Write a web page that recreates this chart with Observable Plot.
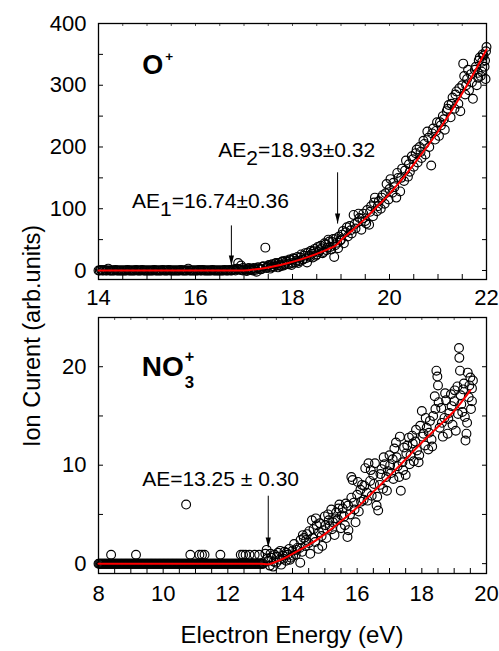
<!DOCTYPE html>
<html><head><meta charset="utf-8">
<script src="https://cdn.jsdelivr.net/npm/d3@7"></script>
<script src="https://cdn.jsdelivr.net/npm/@observablehq/plot@0.6"></script>
<style>
body{margin:0;background:#fff;}
#wrap{position:relative;width:499px;height:651px;font-family:"Liberation Sans",Arial,sans-serif;color:#000;overflow:hidden;}
#wrap svg{position:absolute;left:0;overflow:visible;}
#xlab{position:absolute;left:98px;width:388px;top:623px;text-align:center;font-size:24px;line-height:1;white-space:nowrap;}
#ylab{position:absolute;left:33px;top:336px;transform:translate(-50%,-50%) rotate(-90deg);font-size:23.5px;line-height:1;white-space:nowrap;}
</style>
</head><body>
<div id="wrap">
  <div id="xlab">Electron Energy (eV)</div>
  <div id="ylab">Ion Curent (arb.units)</div>
</div>
<script>
const FONT = '"Liberation Sans", Arial, sans-serif';

// ---------- Panel 1: O+ ----------
const oXTicks = [14, 16, 18, 20, 22];
const oYTicks = [0, 100, 200, 300, 400];
const oXMinor = [14,14.5,15,15.5,16,16.5,17,17.5,18,18.5,19,19.5,20,20.5,21,21.5,22];
const oYMinor = [0,50,100,150,200,250,300,350,400];

const oZeroE = [
14.00,14.05,14.10,14.15,14.20,14.25,14.30,14.35,14.40,14.45,
14.50,14.55,14.60,14.65,14.70,14.75,14.80,14.85,14.90,14.95,
15.00,15.05,15.10,15.15,15.20,15.25,15.30,15.35,15.40,15.45,
15.50,15.55,15.60,15.65,15.70,15.75,15.80,15.85,15.90,15.95,
16.00,16.05,16.10,16.15,16.20,16.25,16.30,16.35,16.40,16.45,
16.50,16.55,16.60,16.65,16.70,16.75,16.80,16.85,16.90,16.95,
16.88,16.94,16.98,
14.025,14.075,14.125,14.175,14.225,14.275,14.325,14.375,14.425,14.475,
14.525,14.575,14.625,14.675,14.725,14.775,14.825,14.875,14.925,14.975,
15.025,15.075,15.125,15.175,15.225,15.275,15.325,15.375,15.425,15.475,
15.525,15.575,15.625,15.675,15.725,15.775,15.825,15.875,15.925,15.975,
16.025,16.075,16.125,16.175,16.225,16.275,16.325,16.375,16.425,16.475,
16.525,16.575,16.625,16.675,16.725,16.775,16.825,16.875,16.925,16.975];
const oZeroI = [
0,1,0,0,3,0,0,1,0,0,
0,0,1,0,0,0,0,0,1,0,
0,0,0,1,0,0,0,0,0,1,
0,0,0,0,1,0,0,3,0,0,
0,0,0,1,0,0,0,1,0,0,
0,0,1,0,1,0,2,3,2,1,
12,8,4,
0,0,1,0,0,0,0,0,0,0,
0,0,0,0,0,1,0,0,0,0,
0,0,0,0,0,0,1,0,0,0,
0,0,0,0,0,0,0,0,0,0,
0,1,0,0,0,0,0,0,0,0,
0,0,0,0,0,1,0,2,1,0];

const oRiseE = [
17.02,17.06,17.10,17.14,17.18,17.22,17.26,17.30,17.34,17.38,
17.44,17.46,17.50,17.54,17.58,17.62,17.66,17.70,17.74,17.78,
17.82,17.86,17.90,17.94,17.98,18.02,18.06,18.10,18.14,18.18,
18.22,18.26,18.30,18.34,18.38,18.42,18.46,18.50,18.54,18.58,
18.62,18.66,18.70,18.74,18.78,18.82,18.86,18.90,18.94,18.98,
19.02,19.06,19.10,19.14,19.18,19.22,19.26,19.30,19.34,19.38,
19.42,19.46,19.50,19.54,19.58,19.62,19.66,19.70,19.74,19.78,
19.82,19.86,19.90,19.94,19.98,20.02,20.06,20.10,20.14,20.18,
20.22,20.26,20.30,20.34,20.38,20.42,20.46,20.50,20.54,20.58,
20.62,20.66,20.70,20.74,20.78,20.82,20.86,20.90,20.94,20.98,
21.02,21.06,21.10,21.14,21.18,21.22,21.26,21.30,21.34,21.38,
21.42,21.46,21.50,21.52,21.56,21.60,21.64,21.68,21.72,21.76,
21.80,21.84,21.88,21.92,21.96,22.00,21.98,21.94,21.86,21.90,
17.04,17.08,17.12,17.16,17.20,17.24,17.28,17.32,17.36,17.40,
17.48,17.52,17.56,17.60,17.64,17.68,17.72,17.76,17.80,17.84,
17.88,17.92,17.96,18.00,18.04,18.08,18.12,18.16,18.20,18.24,
18.28,18.32,18.36,18.40,18.44,18.48,18.52,18.56,18.60,18.64,
18.68,18.72,18.76,18.80,18.84,18.88,18.92,18.96,19.00,19.04,
19.12,19.20,19.28,19.36,19.44,19.52,19.60,19.68,19.76,19.84,
19.92,20.00,20.08,20.16,20.24,20.32,20.40,20.48,20.56,20.64,
20.72,20.80,20.88,20.96,21.04,21.12,21.20,21.28,21.36,21.44,
21.54,21.58,21.62,21.70,21.78,21.82,21.99,21.97,21.91,21.83];
const oRiseI = [
2,-1,4,1,0,3,-2,5,2,6,
37,4,8,3,10,6,12,5,9,14,
8,16,11,18,9,20,13,22,15,26,
18,28,13,24,32,21,35,26,30,40,
28,44,33,50,38,46,22,52,36,48,
58,44,62,55,72,60,90,68,78,85,
66,92,80,98,74,104,88,118,96,112,
100,122,108,140,115,148,126,135,118,150,
128,165,145,178,152,160,185,168,190,175,
200,182,210,188,225,200,170,230,212,240,
218,235,250,228,258,268,248,280,262,290,
270,258,300,335,285,310,292,318,278,325,
300,340,315,350,330,362,310,348,345,322,
0,3,1,2,4,1,5,3,2,7,
6,9,5,7,11,8,12,7,15,10,
14,10,17,12,19,16,12,21,17,24,
20,29,22,27,31,24,38,33,36,30,
42,37,47,34,51,41,45,55,50,64,
70,65,75,92,84,76,95,110,104,118,
125,132,142,158,150,162,172,180,196,192,
205,215,222,226,240,245,262,270,285,295,
315,300,325,305,330,320,355,340,338,312];

const oFitE = [14,16.5,17.0,17.25,17.5,17.75,18.0,18.25,18.5,18.75,18.93,19.0,19.25,19.5,19.75,20.0,20.25,20.5,20.75,21.0,21.25,21.5,21.75,22.0];
const oFitI = [0,0,0,2,5,9,14,20,27,35,43,49,66,84,104,124,147,172,198,225,255,287,321,358];

const oTitle = [{x: 14.9, y: 319, label: "O+"}];
const oNotes = [
  {x: 16.47, y: 183, label: "AE2=18.93±0.32"},
  {x: 14.69, y: 102, label: "AE1=16.74±0.36"}
];
const oArrows = [
  {x: 18.93, from: 159, to: 76},
  {x: 16.74, from: 73, to: 8}
];

// ---------- Panel 2: NO3+ ----------
const nXTicks = [8, 10, 12, 14, 16, 18, 20];
const nYTicks = [0, 10, 20];
const nXMinor = [8,8.5,9,9.5,10,10.5,11,11.5,12,12.5,13,13.5,14,14.5,15,15.5,16,16.5,17,17.5,18,18.5,19,19.5,20];
const nYMinor = [0,5,10,15,20,25];

const nZeroE = [
8.00,8.05,8.10,8.15,8.20,8.25,8.30,8.35,8.40,8.45,
8.50,8.55,8.60,8.65,8.70,8.75,8.80,8.85,8.90,8.95,
9.00,9.05,9.10,9.15,9.20,9.25,9.30,9.35,9.40,9.45,
9.50,9.55,9.60,9.65,9.70,9.75,9.80,9.85,9.90,9.95,
10.00,10.05,10.10,10.15,10.20,10.25,10.30,10.35,10.40,10.45,
10.50,10.55,10.60,10.65,10.70,10.75,10.80,10.85,10.90,10.95,
11.00,11.05,11.10,11.15,11.20,11.25,11.30,11.35,11.40,11.45,
11.50,11.55,11.60,11.65,11.70,11.75,11.80,11.85,11.90,11.95,
12.00,12.05,12.10,12.15,12.20,12.25,12.30,12.35,12.40,12.45,
12.50,12.55,12.60,12.65,12.70,12.75,12.80,12.85,12.90,12.95,
13.00,13.05,13.10,
8.025,8.075,8.125,8.175,8.225,8.275,8.325,8.375,8.425,8.475,
8.525,8.575,8.625,8.675,8.725,8.775,8.825,8.875,8.925,8.975,
9.025,9.075,9.125,9.175,9.225,9.275,9.325,9.375,9.425,9.475,
9.525,9.575,9.625,9.675,9.725,9.775,9.825,9.875,9.925,9.975,
10.025,10.075,10.125,10.175,10.225,10.275,10.325,10.375,10.425,10.475,
10.525,10.575,10.625,10.675,10.725,10.775,10.825,10.875,10.925,10.975,
11.025,11.075,11.125,11.175,11.225,11.275,11.325,11.375,11.425,11.475,
11.525,11.575,11.625,11.675,11.725,11.775,11.825,11.875,11.925,11.975,
12.025,12.075,12.125,12.175,12.225,12.275,12.325,12.375,12.425,12.475,
12.525,12.575,12.625,12.675,12.725,12.775,12.825,12.875,12.925,12.975,
13.025,13.075];
const nZeroI = [
0,0,0,0,0,0,0,0,0,0,
0,0,0,0,0,0,0,0,0,0,
0,0,0,0,0,0,0,0,0,0,
0,0,0,0,0,0,0,0,0,0,
0,0,0,0,0,0,0,0,0,0,
0,0,0,0,0,0,0,0,0,0,
0,0,0,0,0,0,0,0,0,0,
0,0,0,0,0,0,0,0,0,0,
0,0,0,0,0,0,0,0,0,0,
0,0,0,0,0,0,0,0,0,0,
0,0,0,
0,0,0,0,0,0,0,0,0,0,
0,0,0,0,0,0,0,0,0,0,
0,0,0,0,0,0,0,0,0,0,
0,0,0,0,0,0,0,0,0,0,
0,0,0,0,0,0,0,0,0,0,
0,0,0,0,0,0,0,0,0,0,
0,0,0,0,0,0,0,0,0,0,
0,0,0,0,0,0,0,0,0,0,
0,0,0,0,0,0,0,0,0,0,
0,0,0,0,0,0,0,0,0,0,
0,0];
const nLowE = [8.39,9.16,10.71,10.84,11.12,11.20,11.28,11.77,12.40,12.47,12.55,12.67,12.83,12.97,13.16];
const nLowI = [0.9,0.9,6.0,0.9,0.9,0.9,0.9,0.9,0.9,0.9,0.9,0.9,0.9,0.9,1.0];

const nRiseE = [
13.20,13.25,13.30,13.35,13.40,13.45,13.50,13.55,13.60,13.65,
13.70,13.75,13.80,13.85,13.90,13.95,14.00,14.05,14.10,14.15,
14.24,14.25,14.30,14.35,14.40,14.45,14.50,14.55,14.60,14.65,
14.70,14.75,14.80,14.85,14.90,14.95,15.00,15.05,15.10,15.15,
15.20,15.25,15.30,15.35,15.40,15.45,15.50,15.55,15.60,15.65,
15.70,15.73,15.78,15.82,15.86,15.90,15.95,16.00,16.05,16.10,
16.15,16.20,16.25,16.30,16.35,16.40,16.45,16.50,16.55,16.60,
16.65,16.70,16.75,16.80,16.85,16.90,16.95,17.00,17.05,17.10,
17.15,17.20,17.25,17.30,17.35,17.40,17.45,17.50,17.55,17.60,
17.65,17.70,17.75,17.80,17.85,17.90,17.95,18.00,18.05,18.10,
18.15,18.20,18.25,18.30,18.35,18.40,18.45,18.48,18.50,18.55,
18.60,18.65,18.70,18.75,18.80,18.85,18.90,18.95,19.00,19.05,
19.10,19.15,19.16,19.18,19.20,19.25,19.30,19.35,19.38,19.40,
19.45,19.50,19.52,19.55,19.58,
13.22,13.32,13.42,13.52,13.62,13.72,13.82,13.92,14.02,14.12,
14.22,14.32,14.42,14.52,14.62,14.72,14.82,14.92,15.02,15.12,
15.22,15.32,15.42,15.52,15.62,15.72,15.82,15.92,16.02,16.12,
16.22,16.32,16.42,16.52,16.62,16.72,16.82,16.92,17.02,17.12,
17.22,17.32,17.42,17.52,17.62,17.72,17.82,17.92,18.02,18.12,
18.22,18.32,18.42,18.52,18.62,18.72,18.82,18.92,19.02,19.12,
19.22,19.28,19.33,19.42,19.47,19.55];
const nRiseI = [
1.4,0.3,-0.2,0.6,-0.3,0.9,0.1,1.1,0.4,-0.1,
0.8,1.2,0.3,0.9,1.5,0.6,1.3,2.0,0.9,1.6,
0.1,2.4,1.2,2.6,1.8,3.0,2.1,1.0,4.4,3.5,
2.2,3.9,1.5,4.1,2.8,3.4,4.8,2.6,5.0,3.8,
5.5,4.2,2.9,5.2,4.5,6.0,3.6,5.6,4.8,6.1,
2.7,3.4,5.0,8.8,8.5,6.2,4.2,7.0,5.3,7.5,
8.0,6.5,9.7,7.2,10.2,8.4,6.9,9.0,10.2,5.9,
5.4,8.0,9.6,7.6,10.1,8.8,9.4,11.0,9.2,10.6,
11.7,12.3,9.9,8.8,7.4,10.3,11.8,9.0,12.0,12.8,
11.0,13.0,10.4,12.4,11.5,10.3,14.0,15.5,13.2,12.0,
13.8,11.6,14.5,12.6,15.0,17.0,19.6,19.0,18.1,13.8,
15.8,12.9,14.8,16.6,13.2,15.3,17.2,14.1,16.5,13.5,
18.0,21.9,20.9,19.6,17.1,15.4,18.3,12.5,13.2,14.3,
16.9,18.9,15.7,17.8,18.6,
0.5,1.0,0.2,0.7,1.3,0.5,1.1,0.4,0.8,1.4,
1.6,2.9,2.4,3.3,2.6,4.6,3.2,1.8,3.9,4.4,
3.5,4.6,5.6,4.9,3.9,5.9,6.7,5.5,8.3,6.3,
7.9,6.4,9.5,8.1,6.8,9.1,10.8,7.4,10.0,8.6,
10.8,12.9,9.5,11.2,10.1,12.2,13.6,11.0,12.9,14.8,
13.3,11.9,15.7,16.4,14.3,17.3,14.7,16.0,17.6,15.2,
16.2,17.7,14.9,19.4,18.1,16.5];

const nFitE = [8,13.0,13.25,13.5,13.75,14,14.5,15,15.5,16,16.5,17,17.5,18,18.5,19,19.5];
const nFitI = [0,0,-0.05,0.2,0.55,1.0,1.9,3.0,4.3,5.7,7.3,8.9,10.6,12.3,13.9,15.5,17.6];

const nTitle = [{x: 9.34, y: 19.1, label: "NO3+"}];
const nNotes = [{x: 9.35, y: 7.9, label: "AE=13.25 ± 0.30"}];
const nArrows = [{x: 13.25, from: 6.9, to: 1.65}];

// rich-text pieces: [text, size factor, dy px, dx px]
const rich = {
  "O+": [["O",1,0,0],["+",0.5,-13,2]],
  "NO3+": [["NO",1,0,0],["3",0.6,12,1],["+",0.58,-26,-9.3]],
  "AE2=18.93±0.32": [["AE",1,0,0],["2",1,8,0],["=18.93±0.32",1,-8,0]],
  "AE1=16.74±0.36": [["AE",1,0,0],["1",1,8,0],["=16.74±0.36",1,-8,0]]
};

const head = {draw(ctx) { ctx.moveTo(0, 0); ctx.lineTo(-2.6, -10); ctx.lineTo(2.6, -10); ctx.closePath(); }};

function panel(cfg) {
  const fw = 388, fh = 256;
  const E = cfg.E, I = cfg.I;
  const idx = d3.range(E.length);
  const fidx = d3.range(cfg.fitE.length);
  const svg = Plot.plot({
    width: 499, height: cfg.height,
    marginLeft: 98, marginRight: 13, marginTop: cfg.mt, marginBottom: cfg.mb,
    x: {domain: cfg.xDomain, label: null},
    y: {domain: cfg.yDomain, label: null},
    style: {fontFamily: FONT, fontSize: "22px", color: "black", background: "transparent", overflow: "visible"},
    marks: [
      Plot.tickX(cfg.xMinor, {x: d => d, stroke: "black", strokeWidth: 1, insetTop: fh - 5}),
      Plot.tickX(cfg.xMinor, {x: d => d, stroke: "#555", strokeWidth: 1, insetBottom: fh - 3}),
      Plot.tickY(cfg.yMinor, {y: d => d, stroke: "black", strokeWidth: 1, insetRight: fw - 5}),
      Plot.tickY(cfg.yMinor, {y: d => d, stroke: "black", strokeWidth: 1, insetLeft: fw - 4}),
      Plot.axisX(cfg.xTicks, {tickSize: 0, tickPadding: cfg.xPad, fontSize: 22, label: null}),
      Plot.axisY(cfg.yTicks, {tickSize: 0, tickPadding: 12, fontSize: 22, label: null}),
      Plot.dot(idx, {x: i => E[i], y: i => I[i], r: 4.4, stroke: "black", strokeWidth: 1.15, fill: "none"}),
      Plot.frame({stroke: "black", strokeWidth: 1.3}),
      Plot.line(fidx, {x: i => cfg.fitE[i], y: i => cfg.fitI[i], stroke: "#ff0000", strokeWidth: 2, curve: "monotone-x"}),
      Plot.link(cfg.arrows, {x1: "x", x2: "x", y1: "from", y2: "to", stroke: "black", strokeWidth: 1}),
      Plot.dot(cfg.arrows, {x: "x", y: "to", symbol: head, fill: "black", stroke: "none", r: 3}),
      Plot.text(cfg.title, {x: "x", y: "y", text: "label", textAnchor: "start", lineAnchor: "bottom", fontSize: cfg.titleSize, fontWeight: "bold", fill: "black"}),
      Plot.text(cfg.notes, {x: "x", y: "y", text: "label", textAnchor: "start", lineAnchor: "bottom", fontSize: 21, fill: "black"})
    ]
  });
  svg.style.top = cfg.top + "px";
  // rebuild subscripts / superscripts
  svg.querySelectorAll("text").forEach(t => {
    const key = t.textContent;
    if (!rich[key]) return;
    const g = t.closest("g[font-size]");
    const fs = parseFloat(t.getAttribute("font-size") || (g && g.getAttribute("font-size")) || 21);
    while (t.firstChild) t.removeChild(t.firstChild);
    rich[key].forEach(([s, f, dy, dx]) => {
      const ts = document.createElementNS("http://www.w3.org/2000/svg", "tspan");
      ts.textContent = s;
      if (f !== 1) ts.setAttribute("font-size", (fs * f).toFixed(1));
      if (dy) ts.setAttribute("dy", dy);
      if (dx) ts.setAttribute("dx", dx);
      t.appendChild(ts);
    });
  });
  return svg;
}

const wrap = document.getElementById("wrap");
wrap.appendChild(panel({
  top: 0, height: 310, mt: 23, mb: 31, xPad: 10,
  xDomain: [14, 22], yDomain: [-14.6, 400],
  xTicks: oXTicks, yTicks: oYTicks, xMinor: oXMinor, yMinor: oYMinor,
  E: oZeroE.concat(oRiseE), I: oZeroI.concat(oRiseI),
  fitE: oFitE, fitI: oFitI,
  title: oTitle, titleSize: 27, notes: oNotes, arrows: oArrows
}));
wrap.appendChild(panel({
  top: 300, height: 300, mt: 17, mb: 27, xPad: 12,
  xDomain: [8, 20], yDomain: [-1, 25],
  xTicks: nXTicks, yTicks: nYTicks, xMinor: nXMinor, yMinor: nYMinor,
  E: nZeroE.concat(nLowE, nRiseE), I: nZeroI.concat(nLowI, nRiseI),
  fitE: nFitE, fitI: nFitI,
  title: nTitle, titleSize: 28, notes: nNotes, arrows: nArrows
}));
</script>
</body></html>
